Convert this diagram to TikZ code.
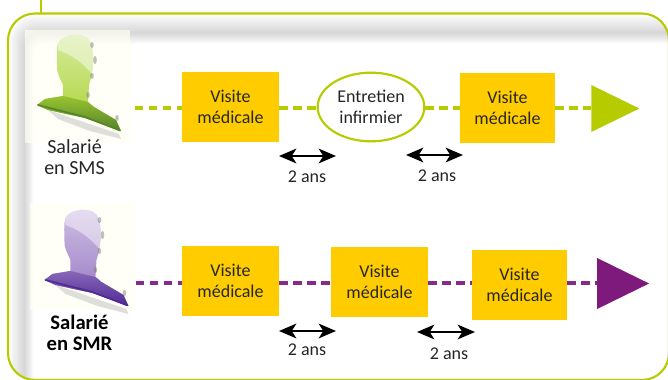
\documentclass[tikz,border=0pt]{standalone}
\usepackage{fontspec}
\setmainfont{Carlito}
\usetikzlibrary{arrows.meta,shapes.geometric}
\pgfdeclarelayer{edgelayer}
\pgfdeclarelayer{nodelayer}
\pgfsetlayers{edgelayer,nodelayer,main}
\definecolor{smsgreen}{HTML}{B7CC00}
\definecolor{smrpurple}{HTML}{7F1A7D}
\definecolor{smrdash}{HTML}{862A8C}
\definecolor{visiteyellow}{HTML}{FFCC00}
\definecolor{iconback}{HTML}{FFFFF4}
\definecolor{bustgreen}{HTML}{A9D332}
\definecolor{bustgreendark}{HTML}{55832A}
\definecolor{bustviolet}{HTML}{9676C2}
\definecolor{bustvioletdark}{HTML}{4E2A93}
\tikzset{font=\fontsize{13.5}{15.75}\selectfont,text=black!85}
\tikzset{duree/.style={{Stealth[length=13pt,width=11pt,inset=3.5pt]}-{Stealth[length=13pt,width=11pt,inset=3.5pt]},line width=1.7pt,black}}
\tikzstyle{none}=[inner sep=0pt]
\tikzstyle{visite}=[rectangle,fill=visiteyellow,align=center,inner sep=0pt,minimum width=72.75pt,minimum height=52.5pt]
\tikzstyle{visitenarrow}=[visite,minimum width=71.25pt]
\tikzstyle{entretien}=[ellipse,draw=smsgreen,fill=white,line width=1.6pt,align=center,inner sep=0pt,minimum width=80pt,minimum height=51.5pt]
\tikzstyle{fin}=[isosceles triangle,isosceles triangle stretches,shape border rotate=0,inner sep=0pt]
\tikzstyle{iconsquare}=[rectangle,fill=iconback,fill opacity=.7,inner sep=0pt]
\tikzstyle{smsline}=[draw=smsgreen,line width=2.4pt,dash pattern=on 6.4pt off 4.1pt]
\tikzstyle{smrline}=[draw=smrdash,line width=2.4pt,dash pattern=on 6.4pt off 4.1pt]
\newcommand{\bustshape}[2]{%
	\fill[black!25,opacity=.5] (48,110) -- (119,134) -- (121,139) -- (90,131) -- (58,119) -- cycle;
	\shade[top color=#1!45,middle color=#1,bottom color=#1]
		(58,43) .. controls (62,34) and (84,31) .. (90,41) .. controls (95,52) and (94,70) .. (89,85) -- (88,102) -- (94,107) -- (116,120) -- (121,131) -- (85,118) -- (48,110) -- (37,105) -- (45,99) -- (63,96) -- (63,85) .. controls (60,78) and (56,72) .. (57,65) .. controls (57,58) and (56,50) .. (58,43) -- cycle;
	\fill[white,opacity=.45] (58,43) .. controls (62,34) and (84,31) .. (90,41) .. controls (94,50) and (94,62) .. (92,74) .. controls (82,62) and (70,54) .. (58,50) -- cycle;
	\shade[top color=#1!80!#2,bottom color=#2] (45,99) -- (63,96) -- (88,102) -- (94,107) -- (116,120) -- (121,131) -- (85,118) -- (48,110) -- (37,105) -- cycle;
	\draw[#2,line width=1.2pt,line cap=round] (38,105) -- (85,117) -- (120,130.5);
	\foreach \sx/\sy/\sr in {92/45/3,95/60/4,92/76/3,88/95/3,117/118/3} {
		\fill[black!50,opacity=.5] (\sx,\sy) ellipse [x radius=1.8,y radius=\sr];
	}
}
\begin{document}
\begin{tikzpicture}[x=0.75pt,y=-0.75pt]
	\useasboundingbox (0,0) rectangle (668,379);
	\begin{pgfonlayer}{nodelayer}
		\node [style=iconsquare,minimum width=78.75pt,minimum height=84.75pt] (iconsms) at (77.5,86.5) {};
		\node [style=iconsquare,minimum width=78.75pt,minimum height=80.25pt] (iconsmr) at (82.5,256.5) {};
		\node [style=none,align=center,font=\fontsize{15}{15.75}\selectfont] (labelsms) at (74.5,157.5) {Salarié\\en SMS};
		\node [style=none,align=center,font=\fontsize{15.5}{15.75}\selectfont\bfseries,text=black] (labelsmr) at (79.5,332.5) {Salarié\\en SMR};
		\node [style=none] (startsms) at (134,108) {};
		\node [style=visite] (sms1) at (230.5,107) {Visite\\médicale};
		\node [style=entretien] (sms2) at (371,107) {Entretien\\infirmier};
		\node [style=visitenarrow] (sms3) at (507.5,108) {Visite\\médicale};
		\node [style=fin,fill=smsgreen,minimum width=35.25pt,minimum height=36pt] (finsms) at (606,108.5) {};
		\node [style=none] (startsmr) at (135,283) {};
		\node [style=visite] (smr1) at (230.5,281) {Visite\\médicale};
		\node [style=visite] (smr2) at (379.5,282) {Visite\\médicale};
		\node [style=visitenarrow] (smr3) at (519.5,285) {Visite\\médicale};
		\node [style=fin,fill=smrpurple,minimum width=38.25pt,minimum height=39pt] (finsmr) at (613,283.5) {};
		\node [style=none] (a1) at (279,156) {};
		\node [style=none] (a2) at (336,156) {};
		\node [style=none] (a3) at (406,155) {};
		\node [style=none] (a4) at (463,155) {};
		\node [style=none] (a5) at (279,331) {};
		\node [style=none] (a6) at (336,331) {};
		\node [style=none] (a7) at (417,332) {};
		\node [style=none] (a8) at (475,332) {};
		\node [style=none] (ans1) at (307,177) {2 ans};
		\node [style=none] (ans2) at (437,176) {2 ans};
		\node [style=none] (ans3) at (307,350) {2 ans};
		\node [style=none] (ans4) at (449,354) {2 ans};
	\end{pgfonlayer}
	\begin{pgfonlayer}{edgelayer}
		\begin{scope}
			\clip [rounded corners=20.25pt] (8,13.5) rectangle (669,380);
			\foreach \i in {0,...,30} {
				\pgfmathsetmacro{\shadelevel}{\i<19 ? 16*\i/19 : 16*(30-\i)/11}
				\pgfmathsetmacro{\cornerlen}{max(27-0.6*\i,8)*0.75}
				\fill [black!\shadelevel,rounded corners=\cornerlen pt] (8+0.85*\i,13.5+\i) rectangle (720,430);
			}
		\end{scope}
		\draw [smsgreen,line width=1.6pt,rounded corners=20.25pt] (8,13.5) rectangle (669,380);
		\draw [smsgreen,line width=1.6pt] (41,0) to (41,13.5);
		\draw [style=smsline] (startsms) to (sms1.west |- startsms);
		\draw [style=smsline] (sms1.east |- startsms) to (sms2.west |- startsms);
		\draw [style=smsline] (sms2.east |- startsms) to (sms3.west |- startsms);
		\draw [style=smsline] (sms3.east |- startsms) to (finsms.west |- startsms);
		\draw [style=smrline] (startsmr) to (smr1.west |- startsmr);
		\draw [style=smrline] (smr1.east |- startsmr) to (smr2.west |- startsmr);
		\draw [style=smrline] (smr2.east |- startsmr) to (smr3.west |- startsmr);
		\draw [style=smrline] (smr3.east |- startsmr) to (finsmr.west |- startsmr);
	\end{pgfonlayer}
	\draw [style=duree] (a1.center) to (a2.center);
	\draw [style=duree] (a3.center) to (a4.center);
	\draw [style=duree] (a5.center) to (a6.center);
	\draw [style=duree] (a7.center) to (a8.center);
	\bustshape{bustgreen}{bustgreendark}
	\begin{scope}[xshift=5.6pt,yshift=-131.25pt]
		\bustshape{bustviolet}{bustvioletdark}
	\end{scope}
\end{tikzpicture}
\end{document}
